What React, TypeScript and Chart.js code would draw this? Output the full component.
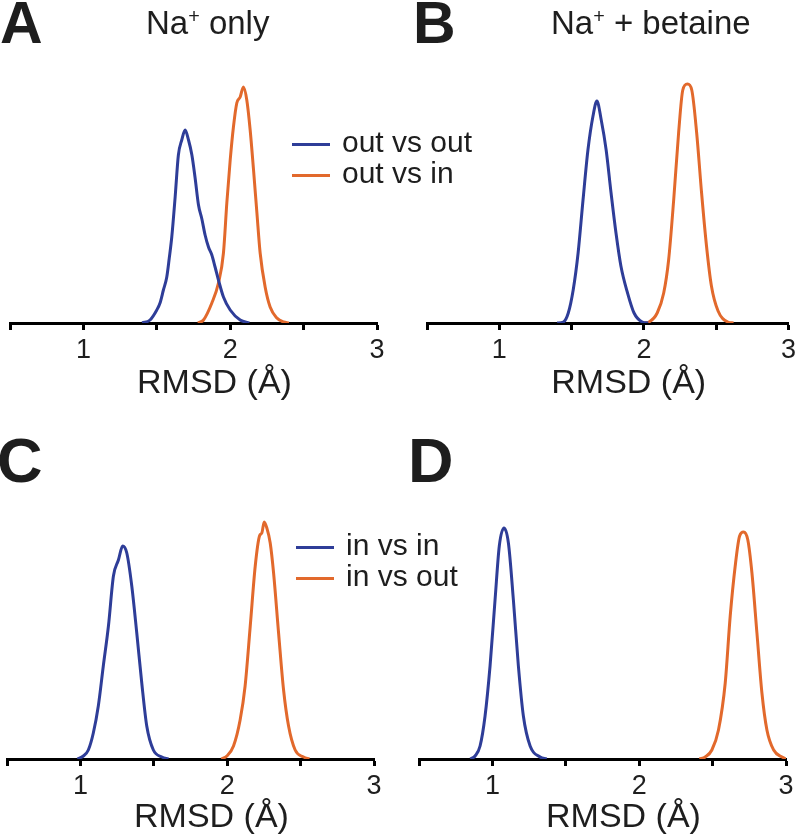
import React, { useEffect, useRef } from "react";
import { Chart, registerables } from "chart.js";

Chart.register(...registerables);

const FONT = "'Liberation Sans', Arial, Helvetica, sans-serif";
const TEXT = "#1e1e1e";
const BLUE = "#2E3D98";
const ORANGE = "#E2692C";

// x-axis ticks (RMSD, Å)
const tickValues = [0.5, 1, 1.5, 2, 2.5, 3];
const tickLabels = ["", "1", "", "2", "", "3"];
const axisTitle = "RMSD (Å)";

// Panel A: Na+ only
const aBlueX = [1.40, 1.454, 1.50, 1.522, 1.545, 1.568, 1.585, 1.602, 1.625, 1.647, 1.670, 1.693, 1.716, 1.739, 1.761, 1.784, 1.807, 1.829, 1.852, 1.875, 1.897, 1.920, 1.954, 2.000, 2.068, 2.13];
const aBlueY = [0, 3, 13, 20, 33, 46, 65, 86, 126, 168, 183, 193, 183, 168, 145, 118, 104, 88, 76, 68, 56, 43, 26, 13, 3, 0];
const aOrangeX = [1.78, 1.818, 1.875, 1.920, 1.954, 1.977, 2.000, 2.022, 2.045, 2.068, 2.090, 2.113, 2.136, 2.159, 2.182, 2.204, 2.238, 2.272, 2.318, 2.363, 2.40];
const aOrangeY = [0, 3, 20, 40, 70, 120, 163, 196, 220, 226, 236, 223, 193, 153, 110, 70, 36, 16, 5, 1, 0];

// Panel B: Na+ + betaine
const bBlueX = [1.40, 1.443, 1.477, 1.511, 1.545, 1.579, 1.613, 1.648, 1.675, 1.705, 1.739, 1.773, 1.807, 1.841, 1.887, 1.932, 1.989, 2.03];
const bBlueY = [0, 1, 10, 33, 70, 123, 173, 207, 222, 203, 173, 130, 90, 57, 30, 10, 1, 0];
const bOrangeX = [2.00, 2.035, 2.092, 2.137, 2.171, 2.206, 2.240, 2.269, 2.301, 2.331, 2.365, 2.399, 2.433, 2.467, 2.513, 2.581, 2.62];
const bOrangeY = [0, 1, 10, 30, 63, 123, 190, 233, 239, 233, 190, 130, 77, 37, 12, 1, 0];

// Panel C
const cBlueX = [0.98, 1.020, 1.054, 1.088, 1.122, 1.156, 1.191, 1.225, 1.259, 1.288, 1.316, 1.350, 1.384, 1.418, 1.452, 1.497, 1.555, 1.60];
const cBlueY = [0, 3, 9, 26, 53, 93, 133, 183, 199, 213, 206, 173, 126, 76, 33, 9, 2, 0];
const cOrangeX = [1.96, 1.998, 2.043, 2.088, 2.122, 2.157, 2.191, 2.220, 2.236, 2.252, 2.270, 2.293, 2.316, 2.350, 2.384, 2.418, 2.463, 2.520, 2.56];
const cOrangeY = [0, 3, 13, 39, 73, 133, 193, 223, 226, 237, 231, 216, 186, 126, 69, 33, 9, 2, 0];

// Panel D
const dBlueX = [0.85, 0.882, 0.916, 0.950, 0.984, 1.018, 1.047, 1.079, 1.109, 1.143, 1.177, 1.211, 1.257, 1.325, 1.37];
const dBlueY = [0, 3, 13, 43, 93, 159, 213, 231, 216, 159, 93, 43, 13, 2, 0];
const dOrangeX = [2.41, 2.450, 2.495, 2.540, 2.586, 2.620, 2.654, 2.684, 2.711, 2.740, 2.768, 2.802, 2.836, 2.870, 2.916, 2.973, 3.0];
const dOrangeY = [0, 2, 9, 29, 76, 143, 193, 223, 227, 219, 186, 126, 66, 29, 9, 2, 0];

const legendTop = ["out vs out", "out vs in"];
const legendBottom = ["in vs in", "in vs out"];

type Series = { label: string; xs: number[]; ys: number[]; color: string };

type PanelProps = {
  left: number;
  top: number;
  width: number;
  height: number;
  padL: number;
  padR: number;
  axisY: number;
  titleDy: number;
  series: Series[];
};

// draws the x-axis title slightly right of the axis centre, as in the figure
const axisTitlePlugin = {
  id: "axisTitleShifted",
  afterDraw(chart: any, _args: any, opts: any) {
    const { ctx, chartArea } = chart;
    ctx.save();
    ctx.fillStyle = TEXT;
    ctx.font = `34px ${FONT}`;
    ctx.textAlign = "center";
    ctx.textBaseline = "alphabetic";
    const cx = (chartArea.left + chartArea.right) / 2 + 21;
    ctx.fillText(axisTitle, cx, chartArea.bottom + opts.dy);
    ctx.restore();
  },
};

function Panel({ left, top, width, height, padL, padR, axisY, titleDy, series }: PanelProps) {
  const ref = useRef<HTMLCanvasElement | null>(null);
  useEffect(() => {
    if (!ref.current) return;
    const chart = new Chart(ref.current, {
      type: "line",
      data: {
        datasets: series.map((s) => ({
          label: s.label,
          data: s.xs.map((x, i) => ({ x, y: s.ys[i] })),
          borderColor: s.color,
          backgroundColor: s.color,
          borderWidth: 3,
          pointRadius: 0,
          fill: false,
          cubicInterpolationMode: "monotone" as const,
        })),
      },
      plugins: [axisTitlePlugin],
      options: {
        animation: false,
        responsive: false,
        maintainAspectRatio: false,
        layout: { padding: { left: padL, right: padR, top: axisY - 250, bottom: 0 } },
        plugins: {
          legend: { display: false },
          tooltip: { enabled: false },
          axisTitleShifted: { dy: titleDy },
        },
        scales: {
          x: {
            type: "linear",
            min: 0.5,
            max: 3,
            z: 1,
            afterBuildTicks: (s: any) => {
              s.ticks = tickValues.map((v) => ({ value: v }));
            },
            afterFit: (s: any) => {
              s.height = height - axisY;
            },
            grid: {
              drawOnChartArea: false,
              drawTicks: true,
              tickLength: 7,
              tickWidth: 3,
              tickColor: "#000",
            },
            border: { display: true, color: "#000", width: 3 },
            ticks: {
              callback: (_v: any, i: number) => tickLabels[i],
              color: TEXT,
              font: { family: FONT, size: 27 },
              padding: 4,
              maxRotation: 0,
              autoSkip: false,
            },
            title: { display: false },
          },
          y: { display: false, min: 0, max: 250 },
        },
      },
    } as any);
    return () => chart.destroy();
  }, []);
  return (
    <canvas
      ref={ref}
      width={width}
      height={height}
      style={{ position: "absolute", left, top, width, height }}
    />
  );
}

function Abs({ left, top, size, bold, children }: any) {
  return (
    <div
      style={{
        position: "absolute",
        left,
        top,
        fontFamily: FONT,
        fontSize: size,
        fontWeight: bold ? 700 : 400,
        lineHeight: 1,
        color: TEXT,
        whiteSpace: "nowrap",
      }}
    >
      {children}
    </div>
  );
}

function Legend({ left, top, labels }: { left: number; top: number; labels: string[] }) {
  const colors = [BLUE, ORANGE];
  return (
    <>
      {labels.map((l, i) => (
        <React.Fragment key={l}>
          <div
            style={{
              position: "absolute",
              left,
              top: top + i * 31 - 9,
              width: 38,
              height: 3,
              background: colors[i],
            }}
          />
          <Abs left={left + 50} top={top + i * 31 - 25.4} size={30}>
            {l}
          </Abs>
        </React.Fragment>
      ))}
    </>
  );
}

const sup = { fontSize: "0.6em", verticalAlign: "0.55em" };

export default function App() {
  return (
    <div
      style={{
        position: "absolute",
        left: 0,
        top: 0,
        width: 800,
        height: 834,
        overflow: "hidden",
        background: "#fff",
      }}
    >
      <Panel
        left={0}
        top={0}
        width={400}
        height={400}
        padL={10}
        padR={23}
        axisY={323}
        titleDy={70}
        series={[
          { label: legendTop[0], xs: aBlueX, ys: aBlueY, color: BLUE },
          { label: legendTop[1], xs: aOrangeX, ys: aOrangeY, color: ORANGE },
        ]}
      />
      <Panel
        left={400}
        top={0}
        width={400}
        height={400}
        padL={27}
        padR={7}
        axisY={323}
        titleDy={70}
        series={[
          { label: legendTop[0], xs: bBlueX, ys: bBlueY, color: BLUE },
          { label: legendTop[1], xs: bOrangeX, ys: bOrangeY, color: ORANGE },
        ]}
      />
      <Panel
        left={0}
        top={400}
        width={400}
        height={434}
        padL={7}
        padR={26}
        axisY={359}
        titleDy={68}
        series={[
          { label: legendBottom[0], xs: cBlueX, ys: cBlueY, color: BLUE },
          { label: legendBottom[1], xs: cOrangeX, ys: cOrangeY, color: ORANGE },
        ]}
      />
      <Panel
        left={400}
        top={400}
        width={400}
        height={434}
        padL={19}
        padR={14}
        axisY={359}
        titleDy={68}
        series={[
          { label: legendBottom[0], xs: dBlueX, ys: dBlueY, color: BLUE },
          { label: legendBottom[1], xs: dOrangeX, ys: dOrangeY, color: ORANGE },
        ]}
      />

      <Abs left={0} top={-6} size={59} bold>A</Abs>
      <Abs left={413} top={-6} size={59} bold>B</Abs>
      <Abs left={-3} top={429} size={63} bold>C</Abs>
      <Abs left={408} top={429} size={63} bold>D</Abs>

      <Abs left={146} top={6} size={33}>
        Na<span style={sup}>+</span> only
      </Abs>
      <Abs left={551} top={6} size={33}>
        Na<span style={sup}>+</span> + betaine
      </Abs>

      <Legend left={292} top={152} labels={legendTop} />
      <Legend left={296} top={555} labels={legendBottom} />
    </div>
  );
}
